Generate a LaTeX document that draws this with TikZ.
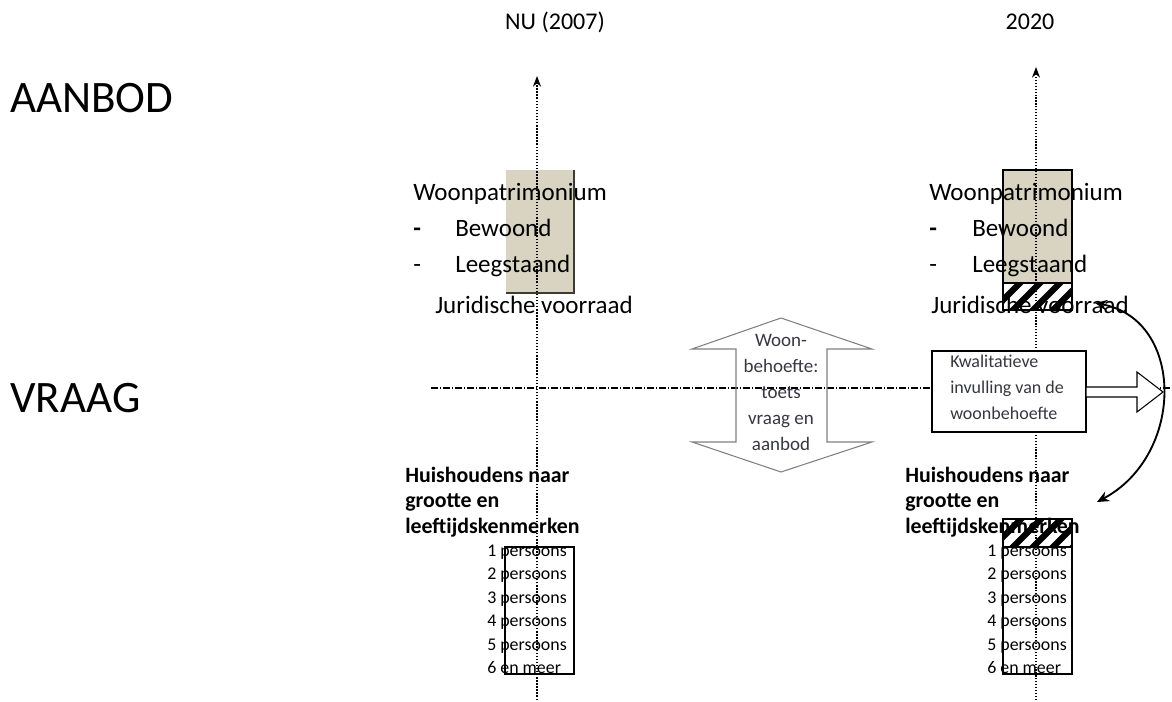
\documentclass[tikz,border=0pt]{standalone}
\usepackage{fontspec}
\setmainfont{Carlito}
\usetikzlibrary{arrows.meta}
\definecolor{beige}{RGB}{217,212,193}
\definecolor{beigeedge}{RGB}{60,60,50}
\definecolor{softtxt}{RGB}{55,55,65}
\begin{document}
\begin{tikzpicture}[x=0.75pt,y=-0.75pt,
  big/.style={font=\fontsize{33.75}{40}\selectfont, anchor=west, inner sep=0},
  hdr/.style={font=\fontsize{18}{22}\selectfont, inner sep=0},
  lbl/.style={font=\fontsize{18.75}{22}\selectfont, anchor=base west, inner sep=0},
  hh/.style={font=\bfseries\fontsize{16.4}{19}\selectfont, anchor=base west, inner sep=0},
  pers/.style={font=\fontsize{13.4}{15}\selectfont, anchor=base west, inner sep=0},
  toets/.style={font=\fontsize{14.25}{19.5}\selectfont, text=softtxt, align=center, inner sep=0},
  kwal/.style={font=\fontsize{13.5}{19.5}\selectfont, text=softtxt, anchor=base west, inner sep=0},
  axisline/.style={line width=1.1pt, dash pattern=on 1.1pt off 1.2pt, -{Stealth[length=8pt,width=6pt]}},
  midline/.style={line width=0.8pt, dash pattern=on 5pt off 1.5pt on 1pt off 1.5pt},
  stock/.style={fill=beige},
  hatchbox/.style={draw=black, line width=1.1pt},
  perbox/.style={draw=black, line width=1.3pt},
  bigarrow/.style={draw=gray, line width=0.8pt},
  kwalbox/.style={draw=black, line width=1.1pt, fill=white},
  curv/.style={line width=1.4pt, {Stealth[length=9pt,width=8pt]}-{Stealth[length=9pt,width=8pt]}}
]
\useasboundingbox (0,0) rectangle (1172,702);

% row headings
\node[big] (aanbod) at (10,98) {AANBOD};
\node[big] (vraag) at (10,398) {VRAAG};
% column headings
\node[hdr] (nu) at (555,22) {NU (2007)};
\node[hdr] (y2020) at (1030,22) {2020};

% horizontal dash-dot line
\coordinate (hl) at (431,388);
\coordinate (hr) at (1172,388);
\draw[midline] (hl) -- (hr);

% stock boxes
\fill[stock] (506,170) rectangle (574,293);
\draw[beigeedge, line width=0.9pt] (574,170) -- (574,293) -- (506,293);
\fill[stock] (1003,170) rectangle (1072,283);
\draw[black, line width=0.9pt] (1003,170) rectangle (1072,283);
\begin{scope}
  \clip (1003,283) rectangle (1072,310);
  \foreach \i in {-40,-20,...,100}
    \draw[line width=4.6pt] (1003+\i,320) -- (1003+\i+40,280);
\end{scope}
\draw[hatchbox] (1003,283) rectangle (1072,310);

% person boxes
\draw[perbox] (505,547) rectangle (574,674);
\begin{scope}
  \clip (1003,519) rectangle (1072,547);
  \foreach \i in {-40,-20,...,100}
    \draw[line width=4.6pt] (1003+\i,557) -- (1003+\i+40,517);
\end{scope}
\draw[perbox] (1003,519) rectangle (1072,674);
\draw[perbox] (1003,547) -- (1072,547);

% axes
\coordinate (la0) at (537,700);
\coordinate (la1) at (537,76);
\coordinate (ra0) at (1036,700);
\coordinate (ra1) at (1036,67);
\draw[axisline] (la0) -- (la1);
\draw[axisline, line width=0.8pt, dash pattern=on 0.9pt off 1.3pt] (ra0) -- (ra1);

% left supply text
\node[lbl] (wl) at (413,201) {Woonpatrimonium};
\node[lbl] (dl1) at (413,237) {\bfseries -};
\node[lbl] (bl) at (455,237) {Bewoond};
\node[lbl] (dl2) at (413,273) {-};
\node[lbl] (ll) at (455,273) {Leegstaand};
\node[lbl] (jl) at (435,314) {Juridische voorraad};
% right supply text
\node[lbl] (wr) at (929,201) {Woonpatrimonium};
\node[lbl] (dr1) at (929,237) {\bfseries -};
\node[lbl] (br) at (972,237) {Bewoond};
\node[lbl] (dr2) at (929,273) {-};
\node[lbl] (lr) at (972,273) {Leegstaand};
\node[lbl] (jr) at (931,314) {Juridische voorraad};

% double arrow in the middle
\draw[bigarrow] (781,318) -- (872,349) -- (827,349) -- (827,442) -- (872,442)
  -- (781,472) -- (692,442) -- (736,442) -- (736,349) -- (692,349) -- cycle;
\node[toets] (toetsnode) at (781,392) {Woon-\\behoefte:\\toets\\vraag en\\aanbod};

% qualitative box and arrow
\draw[kwalbox] (932,351) rectangle (1086,432);
\draw[line width=0.8pt, fill=white] (1086,387) -- (1137,387) -- (1137,372) -- (1163,392)
  -- (1137,412) -- (1137,397) -- (1086,397) -- cycle;
\node[kwal] (k1) at (950,368) {Kwalitatieve};
\node[kwal] (k2) at (950,394) {invulling van de};
\node[kwal] (k3) at (950,420) {woonbehoefte};

% households text left
\node[hh] (hl1) at (405,483) {Huishoudens naar};
\node[hh] (hl2) at (405,508) {grootte en};
\node[hh] (hl3) at (405,533) {leeftijdskenmerken};
% households text right
\node[hh] (hr1) at (905,483) {Huishoudens naar};
\node[hh] (hr2) at (905,508) {grootte en};
\node[hh] (hr3) at (905,533) {leeftijdskenmerken};

% persons left
\node[pers] (pl1) at (487,556) {1 persoons};
\node[pers] (pl2) at (487,579.5) {2 persoons};
\node[pers] (pl3) at (487,603) {3 persoons};
\node[pers] (pl4) at (487,626.5) {4 persoons};
\node[pers] (pl5) at (487,650) {5 persoons};
\node[pers] (pl6) at (487,673) {6 en meer};
% persons right
\node[pers] (pr1) at (987,556) {1 persoons};
\node[pers] (pr2) at (987,579.5) {2 persoons};
\node[pers] (pr3) at (987,603) {3 persoons};
\node[pers] (pr4) at (987,626.5) {4 persoons};
\node[pers] (pr5) at (987,650) {5 persoons};
\node[pers] (pr6) at (987,673) {6 en meer};

% curved double arrow
\coordinate (ctop) at (1095,303);
\coordinate (cbot) at (1097,502);
\draw[curv] (ctop) .. controls (1185,320) and (1185,455) .. (cbot);
\end{tikzpicture}
\end{document}
